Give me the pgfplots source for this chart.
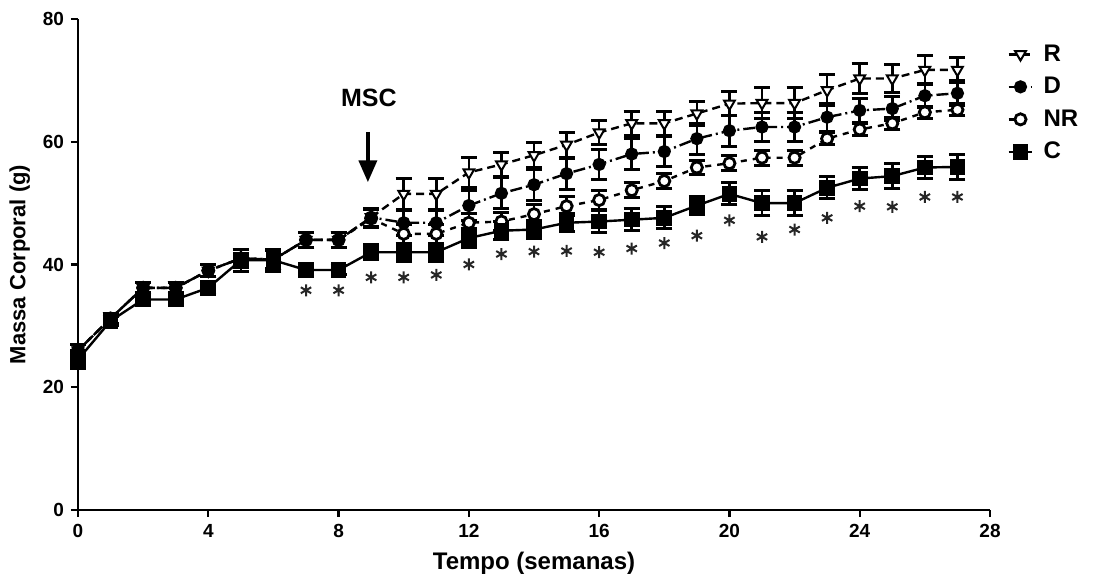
\documentclass[border=0pt]{standalone}
\usepackage{fontspec}
\setmainfont{Liberation Sans}
\usepackage{pgfplots}
\usepackage{pgfplotstable}
\pgfplotsset{compat=1.18}
\usetikzlibrary{arrows.meta}

% week  mean  sem
\pgfplotstableread{
w m e
0 26.0 1.0
1 31.2 0.8
2 36.2 0.8
3 36.2 0.8
4 39.0 1.0
5 41.0 1.5
6 40.8 1.5
7 44.0 1.2
8 44.0 1.2
9 47.7 1.5
10 51.5 2.5
11 51.5 2.5
12 55.0 2.5
13 56.3 2.0
14 57.8 2.0
15 59.5 2.0
16 61.5 2.0
17 63.0 2.0
18 63.0 2.0
19 64.6 2.0
20 66.2 2.0
21 66.3 2.5
22 66.3 2.5
23 68.4 2.5
24 70.3 2.5
25 70.3 2.3
26 71.7 2.3
27 71.7 2.0
}\tR

\pgfplotstableread{
w m e
0 26.0 1.0
1 31.2 0.8
2 36.2 0.8
3 36.2 0.8
4 39.0 1.0
5 41.0 1.5
6 40.8 1.5
7 44.0 1.2
8 44.0 1.2
9 47.7 1.5
10 46.8 2.0
11 46.8 2.0
12 49.6 2.5
13 51.6 2.5
14 53.0 2.5
15 54.8 2.5
16 56.3 2.5
17 58.0 2.5
18 58.4 2.5
19 60.5 2.5
20 61.8 2.5
21 62.4 2.3
22 62.4 2.3
23 64.0 2.3
24 65.1 2.0
25 65.4 2.0
26 67.5 2.0
27 67.9 2.0
}\tD

\pgfplotstableread{
w m e
0 26.0 1.0
1 31.2 0.8
2 36.2 0.8
3 36.2 0.8
4 39.0 1.0
5 41.0 1.5
6 40.8 1.5
7 44.0 1.2
8 44.0 1.2
9 47.5 1.5
10 45.0 1.5
11 45.0 1.5
12 46.8 1.5
13 47.0 1.5
14 48.2 1.5
15 49.5 1.5
16 50.5 1.5
17 52.1 1.2
18 53.6 1.2
19 55.8 1.2
20 56.5 1.2
21 57.4 1.2
22 57.4 1.2
23 60.5 1.0
24 62.0 1.0
25 63.0 1.0
26 64.8 1.0
27 65.2 1.0
}\tNR

\pgfplotstableread{
w m e
0 24.5 1.5
1 30.8 0.8
2 34.3 1.0
3 34.3 1.0
4 36.2 0.8
5 40.7 1.8
6 40.7 1.8
7 39.1 0.8
8 39.1 0.8
9 42.0 1.2
10 42.0 1.5
11 42.0 1.5
12 44.3 1.5
13 45.5 1.5
14 45.7 1.5
15 46.8 1.5
16 47.0 1.8
17 47.3 1.8
18 47.6 1.8
19 49.6 1.5
20 51.5 1.8
21 50.0 2.0
22 50.0 2.0
23 52.5 1.8
24 54.0 1.8
25 54.4 2.0
26 55.8 1.8
27 55.9 2.0
}\tC

% significance marks
\pgfplotstableread{
w y
7 35.8
8 35.8
9 37.9
10 37.9
11 38.3
12 40.0
13 41.7
14 42.1
15 42.2
16 42.0
17 42.6
18 43.5
19 44.7
20 47.2
21 44.5
22 45.7
23 47.6
24 49.5
25 49.4
26 51.0
27 51.0
}\tSig

\pgfplotsset{
  eb/.style={error bars/.cd, y dir=both, y explicit,
    error bar style={line width=1.3pt, solid},
    error mark options={rotate=90, mark size=4pt, line width=1.5pt, solid},
    /pgfplots/.cd},
  sR/.style={black, line width=1.2pt, dash pattern=on 4pt off 2.5pt,
    mark=triangle*, mark size=3.1pt, mark options={solid, rotate=180, fill=white, line width=1pt}},
  sD/.style={black, line width=1.2pt, dash pattern=on 6pt off 2pt on 1pt off 2pt,
    mark=*, mark size=2.7pt, mark options={solid, fill=black}},
  sNR/.style={black, line width=1.2pt, dash pattern=on 3pt off 3pt,
    mark=*, mark size=2.8pt, mark options={solid, fill=white, line width=1.4pt}},
  sC/.style={black, line width=1.2pt, solid,
    mark=square*, mark size=3.3pt, mark options={solid, fill=black}},
}

\begin{document}
\begin{tikzpicture}
\begin{axis}[
  name=ax,
  scale only axis,
  width=456pt, height=245.5pt,
  xmin=0, xmax=28, ymin=0, ymax=80,
  xtick={0,4,...,28}, ytick={0,20,...,80},
  axis x line*=bottom, axis y line*=left,
  axis line style={-, line width=1.2pt},
  tick style={black, line width=1.2pt},
  tick align=outside, major tick length=3.5pt,
  /pgf/number format/assume math mode=true,
  ticklabel style={font=\bfseries\fontsize{9.5}{10}\selectfont},
  xlabel={Tempo (semanas)},
  ylabel={Massa Corporal (g)},
  xlabel style={font=\bfseries\fontsize{12}{14}\selectfont, at={(axis description cs:0.5,-0.108)}, anchor=center},
  ylabel style={font=\bfseries\fontsize{11}{13}\selectfont, at={(axis description cs:-0.064,0.5)}, anchor=center},
  clip=false,
  legend image code/.code={\draw[mark repeat=2, mark phase=2, #1] plot coordinates {(0cm,0cm) (0.21cm,0cm) (0.42cm,0cm)};},
  legend style={at={(1.012,0.965)}, anchor=north west, draw=none, fill=none,
    font=\bfseries\fontsize{12}{14}\selectfont, row sep=2.5pt, column sep=3pt},
  legend cell align=left,
]
  \addplot[forget plot, sNR, eb] table[x=w, y=m, y error=e] {\tNR};
  \addplot[forget plot, sR,  eb] table[x=w, y=m, y error=e] {\tR};
  \addplot[forget plot, sD,  eb] table[x=w, y=m, y error=e] {\tD};
  \addplot[forget plot, sC,  eb] table[x=w, y=m, y error=e] {\tC};
  \addplot[only marks, mark=asterisk, mark size=3pt, line width=1pt, black!85, forget plot]
    table[x=w, y=y] {\tSig};

  \addlegendimage{sR}\addlegendentry{R}
  \addlegendimage{sD}\addlegendentry{D}
  \addlegendimage{sNR}\addlegendentry{NR}
  \addlegendimage{sC}\addlegendentry{C}

  \node[font=\bfseries\fontsize{12.5}{14}\selectfont] at (axis cs:8.93,67.1) {MSC};
  \draw[line width=2pt, -{Triangle[length=11pt, width=9pt]}] (axis cs:8.9,61.6) -- (axis cs:8.9,53.4);
\end{axis}
\pgfresetboundingbox
\path[use as bounding box] ([xshift=-39pt,yshift=-35.5pt]ax.south west) rectangle ([xshift=54pt,yshift=9.5pt]ax.north east);
\end{tikzpicture}
\end{document}
